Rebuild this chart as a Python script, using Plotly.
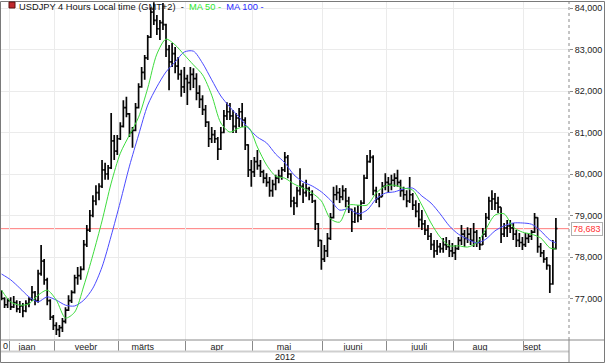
import plotly.graph_objects as go

# ---------------- data ----------------
title_main = "USDJPY 4 Hours Local time (GMT+2)"
ma50_name = "MA 50"
ma100_name = "MA 100"
year_label = "2012"
cut_label = "0"

month_names = ["jaan", "veebr", "märts", "apr", "mai", "juuni", "juuli", "aug", "sept"]
month_label_pos = [8.4, 27.7, 46.4, 70.7, 92.7, 115.4, 137.1, 157.1, 174.2]
month_starts = [2.5, 17.5, 38.5, 60.5, 82.5, 105.5, 126.5, 148.5, 171.5]

y_ticks = [77, 78, 79, 80, 81, 82, 83, 84]

highs = [77.20, 77.03, 77.01, 77.03, 77.06, 76.96, 76.94, 76.89, 76.96, 77.03,
         77.30, 77.18, 77.69, 78.29, 77.95, 77.50, 76.98, 76.60, 76.43, 76.36,
         76.53, 76.79, 77.08, 77.20, 77.57, 77.76, 77.78, 78.41, 78.77, 79.13,
         79.49, 79.73, 79.78, 80.34, 80.27, 80.22, 81.47, 80.94, 80.94, 81.25,
         81.78, 81.86, 81.47, 81.13, 81.71, 82.19, 82.58, 82.87, 83.35, 84.02,
         84.14, 83.83, 83.71, 84.12, 83.62, 83.11, 83.16, 83.06, 82.82, 82.51,
         82.58, 82.39, 82.58, 82.55, 82.43, 82.14, 81.90, 81.66, 81.27, 81.13,
         81.06, 80.89, 81.13, 81.54, 81.73, 81.71, 81.54, 81.47, 81.59, 81.71,
         81.37, 80.72, 80.34, 80.41, 80.58, 80.34, 80.10, 80.02, 79.93, 79.86,
         79.98, 80.10, 80.17, 80.53, 80.46, 80.02, 79.45, 79.69, 80.14, 79.78,
         79.86, 79.69, 79.61, 79.38, 78.82, 78.41, 78.29, 78.58, 79.06, 79.69,
         79.73, 79.66, 79.73, 79.66, 79.45, 79.16, 79.20, 79.25, 79.37, 79.98,
         80.46, 80.58, 80.45, 79.69, 79.54, 79.81, 80.02, 79.93, 79.98, 80.02,
         80.10, 79.86, 79.69, 79.61, 79.93, 79.54, 79.37, 79.30, 79.13, 78.89,
         78.77, 78.58, 78.41, 78.41, 78.34, 78.46, 78.48, 78.41, 78.34, 78.29,
         78.48, 78.77, 78.65, 78.72, 78.70, 78.82, 78.65, 78.48, 78.70, 79.06,
         79.45, 79.61, 79.54, 79.45, 79.20, 78.82, 78.89, 78.89, 78.82, 78.65,
         78.58, 78.48, 78.58, 78.58, 78.65, 79.06, 78.96, 78.34, 78.17, 78.00,
         77.81, 78.41, 78.94]

lows = [76.96, 76.77, 76.77, 76.72, 76.77, 76.67, 76.65, 76.55, 76.67, 76.79,
        76.94, 76.84, 76.90, 77.55, 77.33, 76.84, 76.48, 76.24, 76.12, 76.07,
        76.19, 76.40, 76.70, 76.89, 77.12, 77.33, 77.45, 77.68, 78.24, 78.60,
        78.96, 79.25, 79.37, 79.66, 79.86, 79.86, 80.12, 80.34, 80.46, 80.82,
        81.12, 81.37, 80.89, 80.63, 81.03, 81.58, 82.08, 82.27, 82.75, 83.28,
        83.59, 83.35, 83.23, 83.47, 82.82, 82.02, 82.58, 82.43, 82.27, 81.86,
        81.95, 81.66, 82.02, 82.07, 81.78, 81.59, 81.42, 81.13, 80.65, 80.75,
        80.75, 80.34, 80.58, 80.98, 81.30, 81.30, 80.99, 80.99, 81.13, 81.13,
        80.58, 79.93, 79.69, 79.93, 80.10, 79.93, 79.78, 79.69, 79.45, 79.45,
        79.61, 79.78, 79.86, 80.05, 79.90, 79.20, 79.01, 79.20, 79.49, 79.30,
        79.45, 79.37, 79.30, 78.65, 78.24, 77.69, 77.88, 78.00, 78.41, 78.93,
        79.37, 79.30, 79.37, 79.20, 79.06, 78.60, 78.82, 78.84, 78.89, 79.28,
        79.88, 80.27, 79.49, 79.30, 79.20, 79.45, 79.61, 79.54, 79.61, 79.69,
        79.69, 79.45, 79.37, 79.20, 79.30, 79.13, 78.96, 78.72, 78.65, 78.53,
        78.41, 78.17, 77.98, 78.05, 78.10, 78.10, 78.17, 78.00, 78.00, 77.93,
        78.17, 78.29, 78.24, 78.34, 78.29, 78.24, 78.24, 78.17, 78.29, 78.48,
        78.89, 79.13, 79.13, 79.06, 78.34, 78.48, 78.48, 78.58, 78.41, 78.24,
        78.24, 78.17, 78.24, 78.34, 78.41, 78.58, 78.10, 78.00, 77.86, 77.69,
        77.13, 77.33, 78.18]

closes = [77.00, 76.85, 76.95, 76.80, 76.90, 76.75, 76.82, 76.70, 76.88, 76.98,
          77.15, 76.95, 77.60, 77.90, 77.45, 76.95, 76.55, 76.35, 76.25, 76.30,
          76.45, 76.72, 76.95, 77.15, 77.50, 77.55, 77.70, 78.30, 78.65, 79.00,
          79.35, 79.55, 79.70, 80.10, 80.00, 80.15, 80.80, 80.55, 80.85, 81.15,
          81.60, 81.45, 81.00, 81.05, 81.60, 82.10, 82.45, 82.80, 83.30, 83.90,
          83.70, 83.50, 83.65, 83.60, 83.00, 82.70, 82.90, 82.60, 82.40, 82.10,
          82.30, 82.20, 82.40, 82.30, 81.95, 81.80, 81.55, 81.25, 80.85, 80.95,
          80.85, 80.60, 81.00, 81.40, 81.50, 81.40, 81.15, 81.35, 81.50, 81.30,
          80.70, 80.10, 80.05, 80.30, 80.20, 80.05, 79.90, 79.80, 79.60, 79.75,
          79.90, 79.95, 80.10, 80.40, 80.00, 79.35, 79.30, 79.60, 79.70, 79.55,
          79.65, 79.50, 79.35, 78.80, 78.40, 77.95, 78.15, 78.45, 78.95, 79.50,
          79.55, 79.45, 79.60, 79.35, 79.15, 78.85, 79.05, 79.00, 79.30, 79.90,
          80.30, 80.40, 79.60, 79.40, 79.45, 79.70, 79.80, 79.75, 79.85, 79.90,
          79.80, 79.60, 79.50, 79.35, 79.50, 79.25, 79.10, 78.90, 78.80, 78.65,
          78.50, 78.30, 78.15, 78.25, 78.20, 78.30, 78.25, 78.15, 78.10, 78.20,
          78.40, 78.55, 78.45, 78.55, 78.40, 78.60, 78.35, 78.30, 78.55, 78.95,
          79.35, 79.40, 79.30, 79.20, 78.55, 78.70, 78.75, 78.70, 78.55, 78.40,
          78.35, 78.30, 78.45, 78.50, 78.60, 78.95, 78.25, 78.10, 77.95, 77.80,
          77.35, 78.20, 78.683]

opens = [77.15, 77.00, 76.85, 76.95, 76.80, 76.90, 76.75, 76.82, 76.70, 76.88,
         76.98, 77.15, 76.95, 77.60, 77.90, 77.45, 76.95, 76.55, 76.35, 76.25,
         76.30, 76.45, 76.72, 76.95, 77.15, 77.50, 77.55, 77.70, 78.30, 78.65,
         79.00, 79.35, 79.55, 79.70, 80.10, 80.00, 80.15, 80.80, 80.55, 80.85,
         81.15, 81.60, 81.45, 81.00, 81.05, 81.60, 82.10, 82.45, 82.80, 83.30,
         83.90, 83.70, 83.50, 83.65, 83.60, 83.00, 82.70, 82.90, 82.60, 82.40,
         82.10, 82.30, 82.20, 82.40, 82.30, 81.95, 81.80, 81.55, 81.25, 80.85,
         80.95, 80.85, 80.60, 81.00, 81.40, 81.50, 81.40, 81.15, 81.35, 81.50,
         81.30, 80.70, 80.10, 80.05, 80.30, 80.20, 80.05, 79.90, 79.80, 79.60,
         79.75, 79.90, 79.95, 80.10, 80.40, 80.00, 79.35, 79.30, 79.60, 79.70,
         79.55, 79.65, 79.50, 79.35, 78.80, 78.40, 77.95, 78.15, 78.45, 78.95,
         79.50, 79.55, 79.45, 79.60, 79.35, 79.15, 78.85, 79.05, 79.00, 79.30,
         79.90, 80.30, 80.40, 79.60, 79.40, 79.45, 79.70, 79.80, 79.75, 79.85,
         79.90, 79.80, 79.60, 79.50, 79.35, 79.50, 79.25, 79.10, 78.90, 78.80,
         78.65, 78.50, 78.30, 78.15, 78.25, 78.20, 78.30, 78.25, 78.15, 78.10,
         78.20, 78.40, 78.55, 78.45, 78.55, 78.40, 78.60, 78.35, 78.30, 78.55,
         78.95, 79.35, 79.40, 79.30, 79.20, 78.55, 78.70, 78.75, 78.70, 78.55,
         78.40, 78.35, 78.30, 78.45, 78.50, 78.60, 78.95, 78.25, 78.10, 77.95,
         77.80, 77.35, 78.20]

ma_index = [0, 3, 6, 9, 12, 15, 18, 21, 24, 27, 30, 33, 36, 39, 42, 45, 48, 51,
            54, 57, 60, 63, 66, 69, 72, 75, 78, 81, 84, 87, 90, 93, 96, 99, 102,
            105, 108, 111, 114, 117, 120, 123, 126, 129, 132, 135, 138, 141, 144,
            147, 150, 153, 156, 159, 162, 165, 168, 171, 174, 177, 180, 182]

ma50 = [77.20, 76.92, 76.84, 76.87, 77.08, 77.20, 76.96, 76.53, 76.67, 77.30,
        78.05, 78.87, 79.78, 80.50, 80.94, 81.37, 82.07, 82.89, 83.25, 83.11,
        82.87, 82.63, 82.39, 81.90, 81.23, 81.01, 81.11, 81.13, 80.65, 80.22,
        79.95, 79.90, 79.76, 79.66, 79.54, 79.35, 78.92, 78.84, 79.25, 79.25,
        79.25, 79.54, 79.71, 79.73, 79.66, 79.61, 79.25, 78.82, 78.48, 78.27,
        78.27, 78.24, 78.34, 78.67, 79.01, 79.04, 78.72, 78.60, 78.55, 78.46,
        78.22, 78.19]

ma100 = [77.59, 77.45, 77.25, 77.04, 76.92, 77.04, 76.96, 76.84, 76.82, 76.96,
         77.25, 77.76, 78.51, 79.33, 80.19, 80.94, 81.66, 82.10, 82.46, 82.70,
         82.94, 82.96, 82.67, 82.27, 81.88, 81.61, 81.37, 81.11, 80.89, 80.75,
         80.48, 80.27, 79.98, 79.81, 79.71, 79.57, 79.37, 79.13, 79.16, 79.04,
         79.13, 79.40, 79.54, 79.57, 79.64, 79.66, 79.47, 79.30, 79.04, 78.75,
         78.55, 78.43, 78.34, 78.43, 78.63, 78.75, 78.82, 78.82, 78.79, 78.63,
         78.41, 78.34]

# ---------------- figure ----------------
W, H = 605, 363
FONT = "Liberation Sans, Arial, sans-serif"
bars = list(range(len(closes)))
last_close = closes[-1]

plot_right = 569 / W
y_bottom = (H - 340) / H
y_top = (H - 2) / H

fig = go.Figure()

fig.add_trace(go.Ohlc(
    x=bars, open=opens, high=highs, low=lows, close=closes,
    increasing=dict(line=dict(color="#050505", width=1.7)),
    decreasing=dict(line=dict(color="#050505", width=1.7)),
    tickwidth=0.5, showlegend=False, hoverinfo="skip"))

fig.add_trace(go.Scatter(
    x=ma_index, y=ma100, mode="lines", showlegend=False, hoverinfo="skip",
    line=dict(color="#4b4bff", width=1, shape="spline", smoothing=0.8)))
fig.add_trace(go.Scatter(
    x=ma_index, y=ma50, mode="lines", showlegend=False, hoverinfo="skip",
    line=dict(color="#3ddc3d", width=1, shape="spline", smoothing=0.8)))

shapes = [
    # price line
    dict(type="line", xref="paper", yref="y", x0=0, x1=plot_right,
         y0=last_close, y1=last_close, line=dict(color="#ff7b7b", width=1), layer="below"),
    # bottom axis line (full width)
    dict(type="line", xref="paper", yref="paper", x0=0, x1=1, y0=y_bottom, y1=y_bottom,
         line=dict(color="#8a8a8a", width=1)),
    # separator between month row and year row
    dict(type="line", xref="paper", yref="paper", x0=0, x1=plot_right,
         y0=(H - 351.5) / H, y1=(H - 351.5) / H, line=dict(color="#cfcfcf", width=2)),
    # right axis dotted line
    dict(type="line", xref="paper", yref="paper", x0=plot_right, x1=plot_right,
         y0=y_bottom, y1=1, line=dict(color="#8a8a8a", width=1, dash="dot")),
    dict(type="line", xref="paper", yref="paper", x0=plot_right, x1=plot_right,
         y0=0, y1=y_bottom, line=dict(color="#8a8a8a", width=1)),
    # outer frame
    dict(type="rect", xref="paper", yref="paper", x0=0.5 / W, x1=1 - 0.5 / W,
         y0=0.5 / H, y1=1 - 1.5 / H, line=dict(color="#7a7a7a", width=1)),
    # small icon in the title
    dict(type="rect", xref="paper", yref="paper", x0=9 / W, x1=15 / W,
         y0=(H - 8) / H, y1=(H - 2) / H, fillcolor="#c0282d",
         line=dict(color="#5a1010", width=1)),
]

nb = "\u00a0"
title_html = (f"{title_main}{nb}{nb}-{nb}{nb}"
              f"<span style='color:#2ee82e'>{ma50_name}{nb}-</span>{nb}{nb}"
              f"<span style='color:#2a2aff'>{ma100_name}{nb}-</span>")

annotations = [
    dict(text=title_html, xref="paper", yref="paper", x=16.5 / W, y=(H - 0.5) / H,
         xanchor="left", yanchor="top", showarrow=False,
         font=dict(family=FONT, size=9.3, color="#111111")),
    dict(text=year_label, xref="paper", yref="paper", x=284.5 / W, y=(H - 357) / H,
         xanchor="center", yanchor="middle", showarrow=False,
         font=dict(family=FONT, size=9, color="#222222")),
    dict(text=cut_label, xref="paper", yref="paper", x=1.0 / W, y=(H - 346) / H,
         xanchor="left", yanchor="middle", showarrow=False,
         font=dict(family=FONT, size=9, color="#222222")),
    dict(text=f"{last_close:.3f}".replace(".", ","), xref="paper", yref="y",
         x=570.5 / W, y=last_close, xanchor="left", yanchor="middle", showarrow=False,
         font=dict(family=FONT, size=9, color="#ff3030"), bgcolor="#ffffff",
         bordercolor="#b0b0b0", borderwidth=1, borderpad=1),
]

fig.update_layout(
    width=W, height=H, margin=dict(l=0, r=0, t=0, b=0),
    paper_bgcolor="#ffffff", plot_bgcolor="#ffffff",
    separators=", ", showlegend=False,
    shapes=shapes, annotations=annotations,
    font=dict(family=FONT, size=9, color="#222222"),
    xaxis=dict(
        domain=[0, plot_right], range=[-0.5, 186.3],
        tickmode="array", tickvals=month_label_pos, ticktext=month_names,
        ticks="", showgrid=False, zeroline=False, showline=False,
        tickfont=dict(family=FONT, size=9, color="#222222"),
        rangeslider=dict(visible=False), fixedrange=True,
        minor=dict(tickmode="array", tickvals=month_starts, ticks="outside",
                   ticklen=11, tickcolor="#8a8a8a", tickwidth=1,
                   showgrid=True, gridcolor="#ebebeb", gridwidth=1),
    ),
    yaxis=dict(
        domain=[y_bottom, y_top], range=[76.0, 84.145], side="right",
        tickmode="array", tickvals=y_ticks, tickformat=".3f",
        ticks="outside", ticklen=3, tickcolor="#8a8a8a",
        showgrid=True, gridcolor="#ebebeb", gridwidth=1,
        zeroline=False, showline=False, fixedrange=True,
        tickfont=dict(family=FONT, size=9, color="#222222"),
    ),
)

fig.write_html(
    "out.html",
    config={"displayModeBar": False, "staticPlot": True},
    post_script="document.body.style.margin='0';document.body.style.padding='0';"
                "document.body.style.overflow='hidden';",
)
